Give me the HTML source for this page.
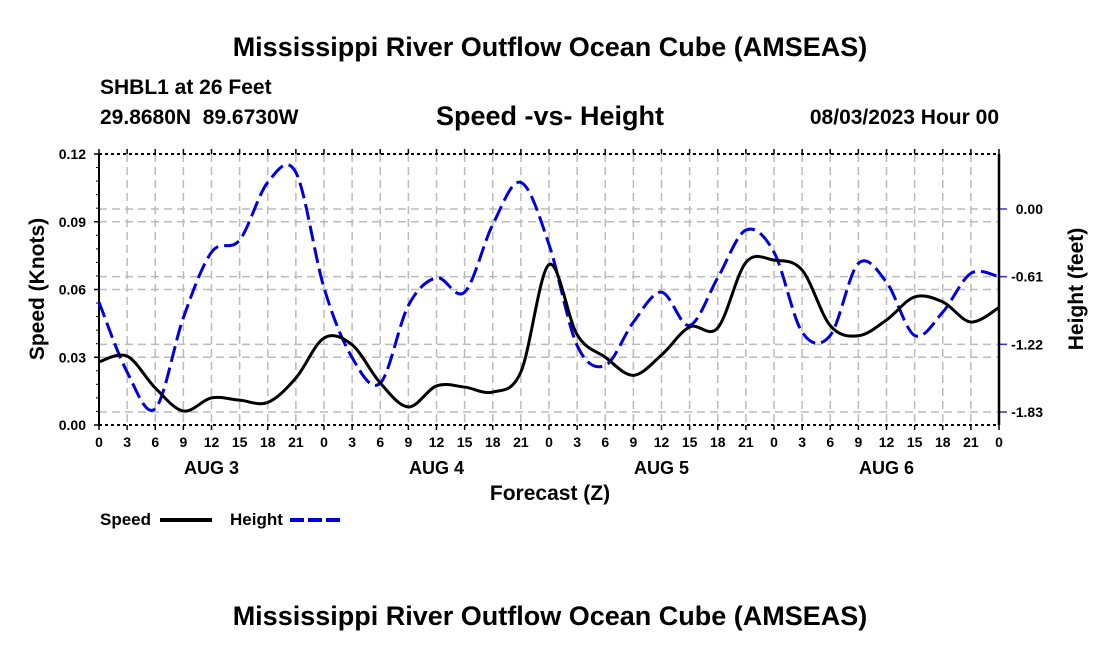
<!DOCTYPE html>
<html><head><meta charset="utf-8"><style>
body{margin:0;background:#fff;}
svg text{font-family:"Liberation Sans",Arial,sans-serif;font-weight:bold;fill:#000;white-space:pre;}
</style></head><body>
<svg id="c" width="1100" height="650" xmlns="http://www.w3.org/2000/svg">
<text x="550" y="56" font-size="27" text-anchor="middle">Mississippi River Outflow Ocean Cube (AMSEAS)</text>
<text x="100" y="94" font-size="21">SHBL1 at 26 Feet</text>
<text x="100" y="124" font-size="21" xml:space="preserve">29.8680N  89.6730W</text>
<text x="550" y="125" font-size="27" text-anchor="middle">Speed -vs- Height</text>
<text x="999" y="124" font-size="21" text-anchor="end">08/03/2023 Hour 00</text>
<g id="grid"></g>
<g id="axes"></g>
<g id="series"></g>
<text x="550" y="500" font-size="21" text-anchor="middle">Forecast (Z)</text>
<text transform="translate(44,289) rotate(-90)" font-size="21" text-anchor="middle">Speed (Knots)</text>
<text transform="translate(1083,289) rotate(-90)" font-size="21" text-anchor="middle">Height (feet)</text>
<g><text x="100" y="525" font-size="17">Speed</text><line x1="160" y1="520" x2="212" y2="520" stroke="#000" stroke-width="4"/></g>
<g><text x="230" y="525" font-size="17">Height</text><line x1="290" y1="520" x2="342" y2="520" stroke="#0000dd" stroke-width="4" stroke-dasharray="14,4"/></g>
<text x="550" y="625" font-size="27" text-anchor="middle">Mississippi River Outflow Ocean Cube (AMSEAS)</text>
</svg>
<script>
const hours=[0,3,6,9,12,15,18,21,24,27,30,33,36,39,42,45,48,51,54,57,60,63,66,69,72,75,78,81,84,87,90,93,96];
const speed=[0.028,0.0305,0.0164,0.0062,0.012,0.011,0.010,0.0208,0.0385,0.0355,0.0186,0.008,0.0173,0.0168,0.0146,0.0235,0.071,0.040,0.030,0.022,0.031,0.0434,0.043,0.072,0.073,0.0686,0.044,0.0395,0.0465,0.0567,0.0545,0.0456,0.052];
const height=[-0.84,-1.47,-1.80,-0.98,-0.39,-0.28,0.24,0.33,-0.71,-1.34,-1.57,-0.87,-0.62,-0.75,-0.14,0.24,-0.32,-1.23,-1.41,-1.02,-0.75,-1.05,-0.62,-0.19,-0.39,-1.11,-1.14,-0.49,-0.66,-1.14,-0.93,-0.58,-0.61];
const leftTicks=[0,0.03,0.06,0.09,0.12];
const leftTickLabels=["0.00","0.03","0.06","0.09","0.12"];
const rightTicks=[0,-0.61,-1.22,-1.83];
const rightTickLabels=["0.00","-0.61","-1.22","-1.83"];
const dayLabels=["AUG 3","AUG 4","AUG 5","AUG 6"];
const X0=99,X1=999,Y0=425,Y1=154;
const xs=h=>X0+(X1-X0)*h/96;
const ys=v=>Y0-(Y0-Y1)*v/0.12;
const yh=f=>209-f*(203/1.83);
const NS="http://www.w3.org/2000/svg";
function mk(p,t,a){const e=document.createElementNS(NS,t);for(const k in a)e.setAttribute(k,a[k]);p.appendChild(e);return e;}
const grid=document.getElementById('grid'),axes=document.getElementById('axes'),ser=document.getElementById('series');
for(let h=3;h<96;h+=3){const l=mk(grid,'line',{x1:xs(h),x2:xs(h),y1:Y1,y2:Y0,stroke:'#bbb','stroke-width':1.5,'stroke-dasharray':'8,5'});

}
leftTicks.forEach((v,i)=>{if(v>0&&v<0.12){const l=mk(grid,'line',{x1:X0,x2:X1,y1:ys(v),y2:ys(v),stroke:'#bbb','stroke-width':1.5,'stroke-dasharray':'8,5'});

}
const t=mk(axes,'text',{x:X0-13,y:ys(v)+5,'font-size':14,'text-anchor':'end'});t.textContent=leftTickLabels[i];


mk(axes,'line',{x1:X0-5,x2:X0,y1:ys(v),y2:ys(v),stroke:'#000','stroke-width':1.5});});
rightTicks.forEach((v,i)=>{const l=mk(grid,'line',{x1:X0,x2:X1,y1:yh(v),y2:yh(v),stroke:'#bbb','stroke-width':1.5,'stroke-dasharray':'8,5'});


mk(axes,'line',{x1:X1,x2:X1+8,y1:yh(v),y2:yh(v),stroke:'#3333cc','stroke-width':1.5});
const t=mk(axes,'text',{x:1043,y:yh(v)+5,'font-size':14,'text-anchor':'end'});t.textContent=rightTickLabels[i];

});
mk(axes,'line',{x1:X0,x2:X1,y1:Y1,y2:Y1,stroke:'#000','stroke-width':2,'stroke-dasharray':'3,3'});
mk(axes,'line',{x1:X0,x2:X1,y1:Y0,y2:Y0,stroke:'#000','stroke-width':2,'stroke-dasharray':'3,3'});
mk(axes,'line',{x1:X0,x2:X0,y1:Y1,y2:Y0,stroke:'#000','stroke-width':2});
mk(axes,'line',{x1:X1,x2:X1,y1:Y1,y2:Y0,stroke:'#000','stroke-width':2.5});
for(let h=0;h<=96;h+=3){mk(axes,'line',{x1:xs(h),x2:xs(h),y1:Y1-5,y2:Y1,stroke:'#000','stroke-width':1.5});
mk(axes,'line',{x1:xs(h),x2:xs(h),y1:Y0,y2:Y0+5,stroke:'#000','stroke-width':1.5});
const t=mk(axes,'text',{x:xs(h),y:447,'font-size':14,'text-anchor':'middle'});t.textContent=String(h%24);

}
for(let v=0.006;v<0.12;v+=0.006){mk(axes,'line',{x1:X0-3,x2:X0,y1:ys(v),y2:ys(v),stroke:'#000','stroke-width':1});}
dayLabels.forEach((d,i)=>{const t=mk(axes,'text',{x:xs(12+24*i),y:474,'font-size':18,'text-anchor':'middle'});t.textContent=d;

});
function path(pts){let d='M'+pts[0][0]+','+pts[0][1];for(let i=0;i<pts.length-1;i++){const p0=pts[Math.max(0,i-1)],p1=pts[i],p2=pts[i+1],p3=pts[Math.min(pts.length-1,i+2)];
d+=' C'+(p1[0]+(p2[0]-p0[0])/6)+','+(p1[1]+(p2[1]-p0[1])/6)+' '+(p2[0]-(p3[0]-p1[0])/6)+','+(p2[1]-(p3[1]-p1[1])/6)+' '+p2[0]+','+p2[1];}return d;}
const hp=mk(ser,'path',{d:path(hours.map((h,i)=>[xs(h),yh(height[i])])),fill:'none',stroke:'#0000dd','stroke-width':3,'stroke-dasharray':'16,6'});


const sp=mk(ser,'path',{d:path(hours.map((h,i)=>[xs(h),ys(speed[i])])),fill:'none',stroke:'#000','stroke-width':3});


</script>
</body></html>
